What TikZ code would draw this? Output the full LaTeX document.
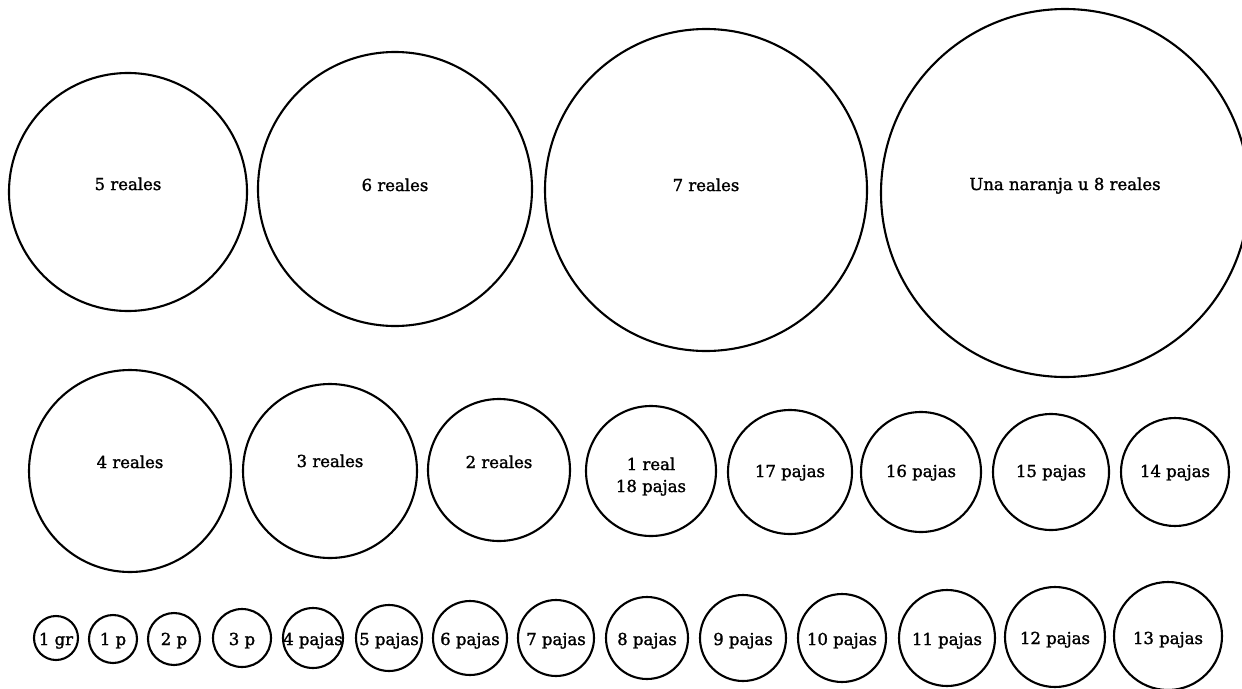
\documentclass[tikz,border=0pt]{standalone}
\usepackage{fontspec}
\setmainfont{DejaVu Serif}[FakeBold=1.5]
\begin{document}
\begin{tikzpicture}[x=1pt,y=-1pt,
  coin/.style={draw,circle,line width=2.1pt,inner sep=0pt,minimum size=#1},
  lbl/.style={font=\fontsize{16.5}{19}\selectfont,inner sep=0pt,anchor=base}]
\clip (0,0) rectangle (1242,688);
% row 1
\node[coin=238pt] (c5r) at (128,192) {};
\node[lbl] (t5r) at (128,190) {5 reales};
\node[coin=274pt] (c6r) at (395,189) {};
\node[lbl] (t6r) at (395,191) {6 reales};
\node[coin=322pt] (c7r) at (706,190) {};
\node[lbl] (t7r) at (706,191) {7 reales};
\node[coin=368pt] (c8r) at (1065,193) {};
\node[lbl] (t8r) at (1065,190) {Una naranja u 8 reales};
% row 2
\node[coin=202pt] (c4r) at (130,471) {};
\node[lbl] (t4r) at (130,468) {4 reales};
\node[coin=174pt] (c3r) at (330,471) {};
\node[lbl] (t3r) at (330,467) {3 reales};
\node[coin=142pt] (c2r) at (499,470) {};
\node[lbl] (t2r) at (499,468) {2 reales};
\node[coin=130pt] (c1r) at (651,471) {};
\node[lbl] (t1ra) at (651,470) {1 real};
\node[lbl] (t1rb) at (651,492) {18 pajas};
\node[coin=124pt] (c17) at (790,472) {};
\node[lbl] (t17) at (790,477) {17 pajas};
\node[coin=120pt] (c16) at (921,472) {};
\node[lbl] (t16) at (921,477) {16 pajas};
\node[coin=116pt] (c15) at (1051,472) {};
\node[lbl] (t15) at (1051,477) {15 pajas};
\node[coin=108pt] (c14) at (1175,472) {};
\node[lbl] (t14) at (1175,477) {14 pajas};
% row 3
\node[coin=44pt] (c1g) at (56,638) {};
\node[lbl] (t1g) at (56,645) {1 gr};
\node[coin=48pt] (c1p) at (113,639) {};
\node[lbl] (t1p) at (113,645) {1 p};
\node[coin=52pt] (c2p) at (174,639) {};
\node[lbl] (t2p) at (174,645) {2 p};
\node[coin=58pt] (c3p) at (242,638) {};
\node[lbl] (t3p) at (242,645) {3 p};
\node[coin=60pt] (c4p) at (313,638) {};
\node[lbl] (t4p) at (313,645) {4 pajas};
\node[coin=66pt] (c5p) at (389,638) {};
\node[lbl] (t5p) at (389,645) {5 pajas};
\node[coin=74pt] (c6p) at (470,638) {};
\node[lbl] (t6p) at (470,645) {6 pajas};
\node[coin=76pt] (c7p) at (556,638) {};
\node[lbl] (t7p) at (556,645) {7 pajas};
\node[coin=82pt] (c8p) at (647,638) {};
\node[lbl] (t8p) at (647,645) {8 pajas};
\node[coin=86pt] (c9p) at (743,638) {};
\node[lbl] (t9p) at (743,645) {9 pajas};
\node[coin=88pt] (c10p) at (842,638) {};
\node[lbl] (t10p) at (842,645) {10 pajas};
\node[coin=96pt] (c11p) at (947,638) {};
\node[lbl] (t11p) at (947,645) {11 pajas};
\node[coin=100pt] (c12p) at (1055,637) {};
\node[lbl] (t12p) at (1055,644) {12 pajas};
\node[coin=108pt] (c13p) at (1168,636) {};
\node[lbl] (t13p) at (1168,644) {13 pajas};
\end{tikzpicture}
\end{document}
